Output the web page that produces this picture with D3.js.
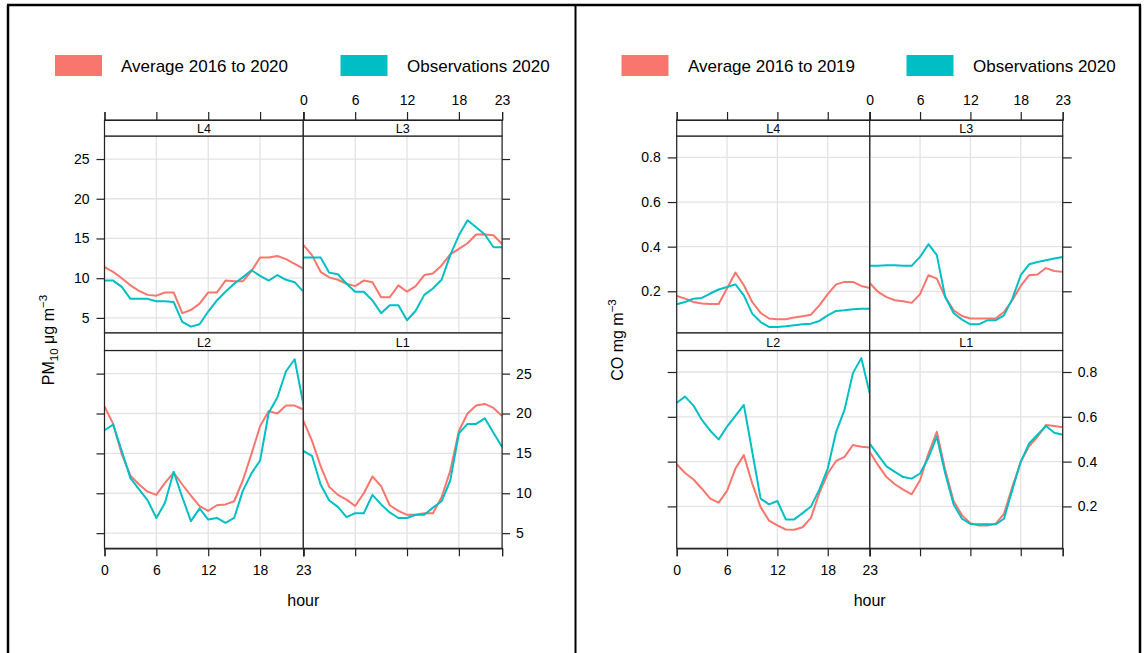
<!DOCTYPE html>
<html>
<head>
<meta charset="utf-8">
<script src="https://cdn.jsdelivr.net/npm/d3@7/dist/d3.min.js"></script>
<style>
  body { margin: 0; background: #fff; }
  svg { display: block; }
  text { font-family: "Liberation Sans", Arial, sans-serif; fill: #000; }
</style>
</head>
<body>
<svg id="chart" width="1147" height="653"></svg>
<script>
// Hour of day, shared by every panel
const hours = [0, 1, 2, 3, 4, 5, 6, 7, 8, 9, 10, 11, 12, 13, 14, 15, 16, 17, 18, 19, 20, 21, 22, 23];
const hourTicks = [0, 6, 12, 18, 23];

// Panel order: top row L4, L3; bottom row L2, L1
const sites = ["L4", "L3", "L2", "L1"];

// PM10 (µg m-3) diurnal profiles
const pmAvgL4 = [11.4, 10.8, 10.0, 9.1, 8.4, 7.9, 7.8, 8.2, 8.2, 5.6, 6.0, 6.8, 8.2, 8.2, 9.7, 9.6, 9.6, 10.9, 12.6, 12.6, 12.8, 12.4, 11.8, 11.2];
const pmObsL4 = [9.7, 9.7, 8.9, 7.4, 7.4, 7.4, 7.1, 7.1, 7.0, 4.5, 3.9, 4.2, 5.8, 7.2, 8.3, 9.3, 10.1, 11.0, 10.3, 9.7, 10.4, 9.8, 9.5, 8.3];
const pmAvgL3 = [14.2, 12.9, 10.8, 10.1, 9.8, 9.3, 9.0, 9.7, 9.5, 7.6, 7.6, 9.1, 8.3, 9.0, 10.4, 10.6, 11.6, 13.0, 13.7, 14.4, 15.5, 15.5, 15.4, 14.3];
const pmObsL3 = [12.6, 12.6, 12.6, 10.7, 10.5, 9.3, 8.3, 8.3, 7.2, 5.6, 6.6, 6.6, 4.7, 5.9, 7.9, 8.7, 9.8, 12.9, 15.4, 17.3, 16.4, 15.5, 13.9, 13.9];
const pmAvgL2 = [20.9, 18.7, 14.9, 12.2, 11.1, 10.2, 9.8, 11.3, 12.6, 11.1, 9.7, 8.4, 7.8, 8.5, 8.6, 9.0, 11.6, 14.9, 18.4, 20.3, 20.0, 21.0, 21.0, 20.5];
const pmObsL2 = [17.9, 18.6, 15.3, 11.9, 10.5, 9.1, 6.9, 8.8, 12.7, 9.5, 6.5, 8.1, 6.7, 6.9, 6.3, 6.9, 10.3, 12.5, 14.1, 20.1, 22.0, 25.3, 26.8, 21.2];
const pmAvgL1 = [19.1, 16.6, 13.4, 10.8, 9.8, 9.2, 8.4, 10.0, 12.1, 10.9, 8.5, 7.8, 7.3, 7.3, 7.5, 7.5, 9.5, 12.8, 17.8, 20.0, 21.0, 21.2, 20.7, 19.7];
const pmObsL1 = [15.3, 14.7, 11.1, 9.1, 8.3, 7.0, 7.5, 7.5, 9.8, 8.6, 7.6, 6.9, 6.9, 7.3, 7.3, 8.2, 9.0, 11.6, 17.5, 18.7, 18.7, 19.4, 17.6, 15.8];
const pmTicks = [5, 10, 15, 20, 25];

// CO (mg m-3) diurnal profiles
const coAvgL4 = [0.179, 0.167, 0.152, 0.145, 0.143, 0.143, 0.212, 0.284, 0.227, 0.152, 0.103, 0.078, 0.075, 0.075, 0.082, 0.088, 0.095, 0.137, 0.187, 0.231, 0.242, 0.242, 0.224, 0.215];
const coObsL4 = [0.142, 0.152, 0.167, 0.170, 0.190, 0.208, 0.219, 0.231, 0.182, 0.100, 0.062, 0.040, 0.040, 0.043, 0.048, 0.052, 0.055, 0.067, 0.092, 0.112, 0.115, 0.119, 0.122, 0.122];
const coAvgL3 = [0.237, 0.197, 0.174, 0.160, 0.155, 0.148, 0.187, 0.272, 0.257, 0.174, 0.115, 0.089, 0.078, 0.078, 0.078, 0.078, 0.107, 0.160, 0.224, 0.272, 0.275, 0.304, 0.291, 0.287];
const coObsL3 = [0.314, 0.314, 0.317, 0.317, 0.314, 0.314, 0.354, 0.411, 0.362, 0.174, 0.103, 0.073, 0.052, 0.052, 0.070, 0.070, 0.092, 0.167, 0.272, 0.321, 0.331, 0.339, 0.347, 0.354];
const coAvgL2 = [0.388, 0.349, 0.320, 0.279, 0.235, 0.217, 0.269, 0.369, 0.429, 0.302, 0.197, 0.137, 0.115, 0.097, 0.096, 0.107, 0.149, 0.260, 0.347, 0.403, 0.421, 0.474, 0.466, 0.463];
const coObsL2 = [0.663, 0.690, 0.650, 0.586, 0.538, 0.499, 0.556, 0.604, 0.653, 0.444, 0.235, 0.209, 0.224, 0.142, 0.142, 0.170, 0.200, 0.275, 0.369, 0.533, 0.631, 0.795, 0.862, 0.705];
const coAvgL1 = [0.444, 0.384, 0.331, 0.299, 0.275, 0.254, 0.317, 0.436, 0.533, 0.362, 0.224, 0.160, 0.125, 0.115, 0.115, 0.122, 0.167, 0.287, 0.399, 0.469, 0.511, 0.563, 0.559, 0.553];
const coObsL1 = [0.481, 0.429, 0.379, 0.354, 0.331, 0.324, 0.347, 0.418, 0.511, 0.347, 0.209, 0.145, 0.122, 0.120, 0.120, 0.120, 0.145, 0.275, 0.399, 0.481, 0.520, 0.559, 0.529, 0.520];
const coTicks = [0.2, 0.4, 0.6, 0.8];

const seriesColors = ["#F8766D", "#00BFC4"];
const pmLegend = ["Average 2016 to 2020", "Observations 2020"];
const coLegend = ["Average 2016 to 2019", "Observations 2020"];

const svg = d3.select("#chart");

// Outer frame with a divider between the two charts
const frame = svg.append("g").attr("stroke", "#000").attr("stroke-width", 2.5).attr("fill", "none");
frame.append("line").attr("x1", 7).attr("x2", 1141).attr("y1", 5).attr("y2", 5);
frame.append("line").attr("x1", 8).attr("x2", 8).attr("y1", 5).attr("y2", 653);
frame.append("line").attr("x1", 575.5).attr("x2", 575.5).attr("y1", 5).attr("y2", 653).attr("stroke-width", 2);
frame.append("line").attr("x1", 1140).attr("x2", 1140).attr("y1", 5).attr("y2", 653);

// Row geometry (strip on top of each panel row)
const rows = [
  { stripTop: 120, stripBottom: 136, panelBottom: 333 },
  { stripTop: 333, stripBottom: 350.5, panelBottom: 548.3 }
];

function drawChart(opt) {
  const g = svg.append("g");
  const W = opt.panelW;
  const x0 = opt.x0;
  const colX = [
    d3.scaleLinear().domain([0, 23]).range([x0, x0 + W]),
    d3.scaleLinear().domain([0, 23]).range([x0 + W, x0 + 2 * W])
  ];
  const rowY = rows.map(r => d3.scaleLinear().domain(opt.yDomain).range([r.panelBottom, r.stripBottom]));

  // Legend
  opt.legend.forEach((name, i) => {
    g.append("rect").attr("x", opt.legendRectX[i]).attr("y", 55).attr("width", 47).attr("height", 21)
      .attr("fill", seriesColors[i]);
    g.append("text").attr("x", opt.legendTextX[i]).attr("y", 66).attr("dy", "0.35em")
      .attr("font-size", 17).text(name);
  });

  const panels = [
    { site: 0, col: 0, row: 0 }, { site: 1, col: 1, row: 0 },
    { site: 2, col: 0, row: 1 }, { site: 3, col: 1, row: 1 }
  ];
  const line = (x, y) => d3.line().x((d, i) => x(hours[i])).y(d => y(d));

  panels.forEach(p => {
    const x = colX[p.col], y = rowY[p.row], r = rows[p.row];
    const left = x(0), right = x(23);
    const pg = g.append("g");
    const clipId = "clip-" + opt.id + "-" + p.site;
    pg.append("clipPath").attr("id", clipId).append("rect")
      .attr("x", left).attr("y", r.stripBottom).attr("width", right - left).attr("height", r.panelBottom - r.stripBottom);

    // Grid
    pg.append("g").selectAll("line").data(hourTicks).join("line")
      .attr("x1", d => x(d)).attr("x2", d => x(d)).attr("y1", r.stripBottom).attr("y2", r.panelBottom)
      .attr("stroke", "#e3e3e3").attr("stroke-width", 1.3);
    pg.append("g").selectAll("line").data(opt.ticks).join("line")
      .attr("x1", left).attr("x2", right).attr("y1", d => y(d)).attr("y2", d => y(d))
      .attr("stroke", "#e3e3e3").attr("stroke-width", 1.3);

    // Series
    const lines = pg.append("g").attr("clip-path", `url(#${clipId})`);
    opt.series[p.site].forEach((vals, i) => {
      lines.append("path").attr("d", line(x, y)(vals)).attr("fill", "none")
        .attr("stroke", seriesColors[i]).attr("stroke-width", 2).attr("stroke-linejoin", "round");
    });

    // Panel and strip borders
    pg.append("rect").attr("x", left).attr("y", r.stripBottom).attr("width", right - left)
      .attr("height", r.panelBottom - r.stripBottom).attr("fill", "none").attr("stroke", "#222").attr("stroke-width", 1.2);
    pg.append("rect").attr("x", left).attr("y", r.stripTop).attr("width", right - left)
      .attr("height", r.stripBottom - r.stripTop).attr("fill", "#fff").attr("stroke", "#222").attr("stroke-width", 1.2);
    pg.append("text").attr("x", (left + right) / 2).attr("y", (r.stripTop + r.stripBottom) / 2 + 0.5)
      .attr("dy", "0.35em").attr("text-anchor", "middle").attr("font-size", 12.5).text(sites[p.site]);
  });

  // Axes: top (above top strips), bottom, left and right, alternating labels
  const tickColor = "#222";
  colX.forEach((x, c) => {
    const top = g.append("g").attr("transform", `translate(0,${rows[0].stripTop})`)
      .call(d3.axisTop(x).tickValues(hourTicks).tickSize(8).tickFormat(c === 1 ? d3.format("d") : ""));
    const bot = g.append("g").attr("transform", `translate(0,${rows[1].panelBottom})`)
      .call(d3.axisBottom(x).tickValues(hourTicks).tickSize(8).tickFormat(c === 0 ? d3.format("d") : ""));
    [top, bot].forEach(a => {
      a.select(".domain").attr("stroke", tickColor).attr("stroke-width", 1.2);
      a.selectAll(".tick line").attr("stroke", tickColor).attr("stroke-width", 1.2);
      a.selectAll(".tick text").attr("font-size", 14).attr("fill", "#000");
    });
    top.selectAll(".tick text").attr("dy", "-0.3em");
    bot.selectAll(".tick text").attr("dy", "1.1em");
  });

  rowY.forEach((y, rIdx) => {
    const leftAxis = g.append("g").attr("transform", `translate(${colX[0](0)},0)`)
      .call(d3.axisLeft(y).tickValues(opt.ticks).tickSize(opt.tickLen).tickPadding(7)
        .tickFormat(rIdx === 0 ? opt.tickFormat : ""));
    const rightAxis = g.append("g").attr("transform", `translate(${colX[1](23)},0)`)
      .call(d3.axisRight(y).tickValues(opt.ticks).tickSize(opt.tickLen).tickPadding(6)
        .tickFormat(rIdx === 1 ? opt.tickFormat : ""));
    [leftAxis, rightAxis].forEach(a => {
      a.select(".domain").remove();
      a.selectAll(".tick line").attr("stroke", tickColor).attr("stroke-width", 1.2);
      a.selectAll(".tick text").attr("font-size", 14).attr("fill", "#000");
    });
  });

  // Axis titles
  g.append("text").attr("x", colX[0](23)).attr("y", 600).attr("dy", "0.35em")
    .attr("text-anchor", "middle").attr("font-size", 16).text("hour");
  const yl = g.append("text").attr("transform", `translate(${opt.yLabelX},${opt.yLabelY}) rotate(-90)`)
    .attr("text-anchor", "middle").attr("font-size", 16);
  opt.yLabel(yl);
}

drawChart({
  id: "pm", x0: 104.5, panelW: 198.8, yDomain: [3.1, 27.9], ticks: pmTicks, tickLen: 8,
  tickFormat: d3.format("d"),
  series: [[pmAvgL4, pmObsL4], [pmAvgL3, pmObsL3], [pmAvgL2, pmObsL2], [pmAvgL1, pmObsL1]],
  legend: pmLegend, legendRectX: [55, 340.5], legendTextX: [121, 407],
  yLabelX: 54, yLabelY: 340,
  yLabel: t => {
    t.append("tspan").text("PM");
    t.append("tspan").attr("font-size", 11.5).attr("dy", 4).text("10");
    t.append("tspan").attr("dy", -4).text(" μg m");
    t.append("tspan").attr("font-size", 11.5).attr("dy", -7).text("−3");
  }
});

drawChart({
  id: "co", x0: 676.7, panelW: 193, yDomain: [0.013, 0.896], ticks: coTicks, tickLen: 9,
  tickFormat: d3.format(".1f"),
  series: [[coAvgL4, coObsL4], [coAvgL3, coObsL3], [coAvgL2, coObsL2], [coAvgL1, coObsL1]],
  legend: coLegend, legendRectX: [621.5, 906.5], legendTextX: [688, 973],
  yLabelX: 623, yLabelY: 340,
  yLabel: t => {
    t.append("tspan").text("CO mg m");
    t.append("tspan").attr("font-size", 11.5).attr("dy", -7).text("−3");
  }
});
</script>
</body>
</html>
